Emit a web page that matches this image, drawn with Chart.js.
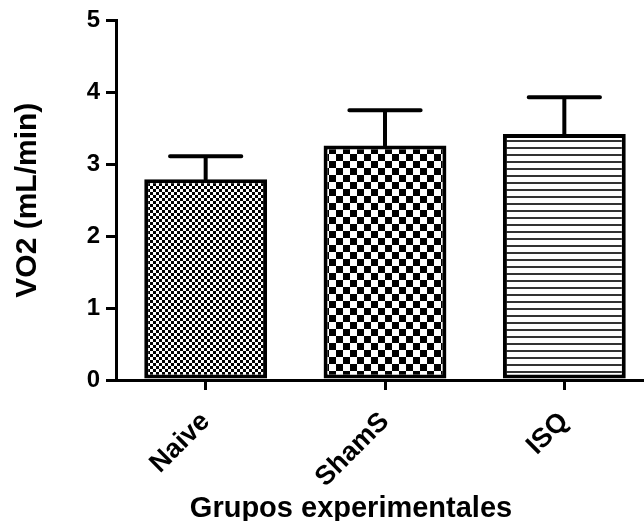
<!DOCTYPE html>
<html>
<head>
<meta charset="utf-8">
<script src="https://cdn.jsdelivr.net/npm/chart.js@4.4.1/dist/chart.umd.min.js"></script>
<style>
html,body{margin:0;padding:0;background:#fff;overflow:hidden;width:644px;height:521px;}
#wrap{position:relative;width:654px;height:521px;}
</style>
</head>
<body>
<div id="wrap"><canvas id="c"></canvas></div>
<script>
const categories = ['Naive', 'ShamS', 'ISQ'];
const means = [2.79, 3.26, 3.42];
const sem = [0.32, 0.49, 0.51];
const yTicks = [0, 1, 2, 3, 4, 5];

function makePattern(kind) {
  const c = document.createElement('canvas');
  const g = c.getContext('2d');
  if (kind === 'fine') {
    const s = 3; c.width = c.height = s * 2;
    g.fillStyle = '#fff'; g.fillRect(0, 0, s * 2, s * 2);
    g.fillStyle = '#000'; g.fillRect(0, 0, s, s); g.fillRect(s, s, s, s);
  } else if (kind === 'coarse') {
    const s = 7; c.width = c.height = s * 2;
    g.fillStyle = '#fff'; g.fillRect(0, 0, s * 2, s * 2);
    g.fillStyle = '#000'; g.fillRect(0, 0, s, s); g.fillRect(s, s, s, s);
  } else {
    c.width = 8; c.height = 7;
    g.fillStyle = '#fff'; g.fillRect(0, 0, 8, 7);
    g.fillStyle = '#333'; g.fillRect(0, 0, 8, 2);
  }
  return g.createPattern(c, 'repeat');
}
const fills = [makePattern('fine'), makePattern('coarse'), makePattern('lines')];

const errorBars = {
  id: 'errorBars',
  afterDatasetsDraw(chart) {
    const ctx = chart.ctx;
    const meta = chart.getDatasetMeta(0);
    const y = chart.scales.y;
    ctx.save();
    ctx.strokeStyle = '#000';
    ctx.lineWidth = 4;
    ctx.lineCap = 'round';
    meta.data.forEach((bar, i) => {
      const top = y.getPixelForValue(means[i] + sem[i]);
      const base = y.getPixelForValue(means[i]);
      const half = bar.width * 0.29;
      ctx.beginPath();
      ctx.moveTo(bar.x, base);
      ctx.lineTo(bar.x, top);
      ctx.moveTo(bar.x - half, top);
      ctx.lineTo(bar.x + half, top);
      ctx.stroke();
    });
    ctx.restore();
  }
};

const FONT = 'Liberation Sans, Arial, sans-serif';

new Chart(document.getElementById('c'), {
  type: 'bar',
  data: {
    labels: categories,
    datasets: [{
      data: means,
      backgroundColor: fills,
      borderColor: '#000',
      borderWidth: 4,
      borderSkipped: false,
      categoryPercentage: 1,
      barPercentage: 0.685
    }]
  },
  options: {
    responsive: true,
    maintainAspectRatio: false,
    animation: false,
    layout: { padding: { top: 20, right: 0, left: 48, bottom: 0 } },
    plugins: {
      legend: { display: false },
      tooltip: { enabled: false },
      title: {
        display: true, position: 'bottom', align: 'center',
        text: 'Grupos experimentales', color: '#000',
        padding: { top: 5, bottom: -5 },
        font: { family: FONT, size: 29, weight: 'bold', lineHeight: 1.2 }
      }
    },
    scales: {
      x: {
        offset: true,
        grid: { offset: false, drawOnChartArea: false, drawTicks: true, tickLength: 10, lineWidth: 3, color: '#000' },
        border: { display: true, color: '#000', width: 3 },
        ticks: { color: '#000', minRotation: 45, maxRotation: 45, padding: 16,
                 font: { family: FONT, size: 27, weight: 'bold' } },
        afterFit(s) { s.height = 521 - 380 - 29 * 1.2; }
      },
      y: {
        min: 0, max: 5,
        afterBuildTicks(s) { s.ticks = yTicks.map(v => ({ value: v })); },
        grid: { drawOnChartArea: false, drawTicks: true, tickLength: 10, lineWidth: 3, color: '#000' },
        border: { display: true, color: '#000', width: 3 },
        ticks: { color: '#000', padding: 6,
                 font: { family: FONT, size: 24, weight: 'bold' } },
        title: { display: true, text: 'VO2 (mL/min)', color: '#000',
                 padding: { top: 28 - 48 - 18, bottom: 0 },
                 font: { family: FONT, size: 30, weight: 'bold', lineHeight: 1.2 } },
        afterFit(s) { s.width = 116 - 48; }
      }
    }
  },
  plugins: [errorBars]
});
</script>
</body>
</html>
